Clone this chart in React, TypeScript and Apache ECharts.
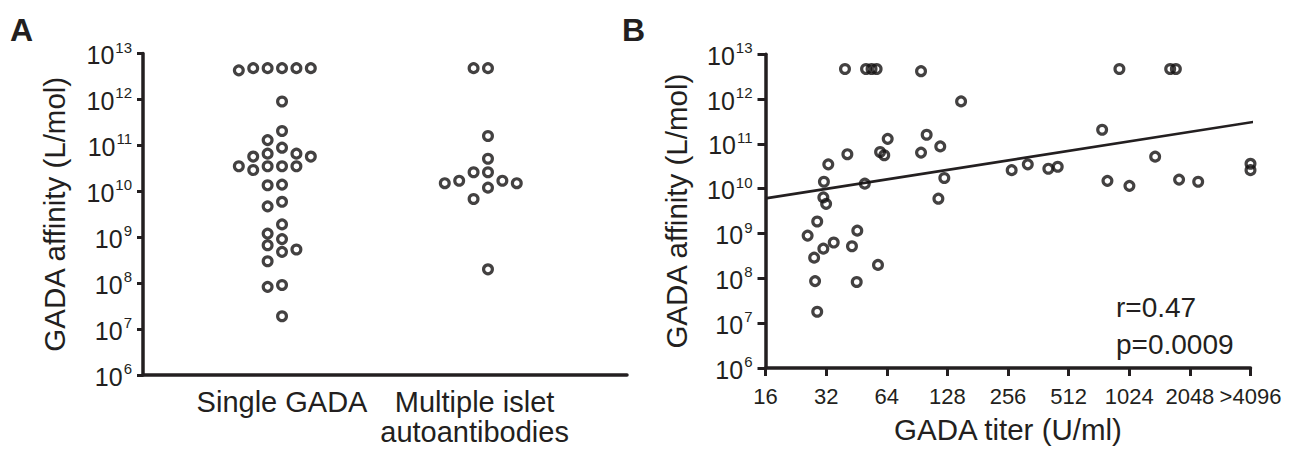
import React, { useEffect, useRef } from "react";
import * as echarts from "echarts";

// ---------- Data ----------
const categories = ["Single GADA", "Multiple islet\nautoantibodies"];

// Panel A: GADA affinity (L/mol) per group
const singleGada = [
  4.8e12, 4.8e12, 4.8e12, 4.3e12, 4.8e12, 4.8e12, 9e11, 2.05e11, 1.3e11, 8.9e10,
  6.6e10, 6.6e10, 5.7e10, 5.7e10, 3.5e10, 3.5e10, 2.9e10, 3.5e10, 3.5e10, 1.35e10,
  1.4e10, 5.9e9, 4.7e9, 1.9e9, 1.2e9, 9.1e8, 6.7e8, 5.4e8, 4.8e8, 3.0e8, 9.1e7,
  8.3e7, 1.9e7,
];
const multipleIslet = [
  4.8e12, 4.8e12, 1.6e11, 5.1e10, 2.6e10, 2.6e10, 1.7e10, 1.5e10, 1.5e10, 1.7e10,
  1.2e10, 6.8e9, 2.0e8,
];

// Panel B: GADA titer (U/ml) vs affinity (L/mol)
const titers = [
  39.7, 50.5, 53.8, 57, 94.7, 149.7, 101, 64.7, 118, 59.3, 62.2, 94.7, 40.8, 32.8,
  123.6, 31.2, 49.8, 115.5, 31, 32, 28.9, 45.7, 25.9, 34.9, 31, 43, 27.9, 57.9, 28.2,
  45.4, 28.9, 915, 1635, 1745, 751, 1377, 267, 321, 406, 452, 798, 1026, 1810, 2252,
  4096, 4096,
];
const affinities = [
  4.7e12, 4.7e12, 4.7e12, 4.7e12, 4.2e12, 8.9e11, 1.6e11, 1.3e11, 8.8e10, 6.6e10,
  5.6e10, 6.4e10, 5.9e10, 3.5e10, 1.74e10, 1.43e10, 1.3e10, 6.0e9, 6.4e9, 4.6e9,
  1.86e9, 1.16e9, 9.0e8, 6.3e8, 4.6e8, 5.2e8, 2.9e8, 2.0e8, 8.7e7, 8.3e7, 1.8e7,
  4.7e12, 4.7e12, 4.7e12, 2.07e11, 5.2e10, 2.6e10, 3.5e10, 2.8e10, 3.1e10, 1.5e10,
  1.16e10, 1.6e10, 1.43e10, 3.6e10, 2.6e10,
];

// Regression line end points [titer, affinity]
const fitLine = [
  [16, 6.1e9],
  [4450, 3.2e11],
];

const xTickLabelsB = ["16", "32", "64", "128", "256", "512", "1024", "2048", ">4096"];
const statsText = ["r=0.47", "p=0.0009"];

// ---------- Styles ----------
const INK = "#231f20";
const MARK = "#141112";
const FONT = "'Liberation Sans', Arial, Helvetica, sans-serif";

function swarm(chart: any, values: number[], center: number, step: number, minDist: number) {
  const placed: { x: number; y: number }[] = [];
  const order = values.map((_, i) => i).sort((a, b) => values[b] - values[a]);
  const cx = chart.convertToPixel({ gridIndex: 0 }, [center, values[0]])[0];
  const out: number[][] = [];
  for (const i of order) {
    const py = chart.convertToPixel({ gridIndex: 0 }, [center, values[i]])[1];
    for (let n = 0; n < 60; n++) {
      const k = n === 0 ? 0 : n % 2 === 1 ? -(n + 1) / 2 : n / 2;
      const px = cx + k * step;
      if (placed.every((p) => Math.hypot(p.x - px, p.y - py) >= minDist)) {
        placed.push({ x: px, y: py });
        const dx = chart.convertFromPixel({ gridIndex: 0 }, [px, py])[0];
        out.push([dx, values[i]]);
        break;
      }
    }
  }
  return out;
}

const supLabel = (v: number) => {
  const e = Math.round(Math.log10(v));
  return `{b|10}{s|${e}}`;
};

const richSup = {
  b: { fontSize: 25, color: INK, fontFamily: FONT, lineHeight: 28, verticalAlign: "bottom" },
  s: { fontSize: 15, color: INK, fontFamily: FONT, lineHeight: 28, verticalAlign: "top", padding: [0, 0, 8, 1] },
};

const markerStyle = {
  color: "rgba(0,0,0,0)",
  borderColor: MARK,
  borderWidth: 3.2,
};

export default function App() {
  const ref = useRef<HTMLDivElement>(null);
  useEffect(() => {
    document.body.style.margin = "0";
    const chart = echarts.init(ref.current!, null, { renderer: "svg" });
    const option: any = {
      animation: false,
      backgroundColor: "#ffffff",
      textStyle: { fontFamily: FONT, color: INK },
      grid: [
        { left: 143, top: 53.5, right: 665, bottom: 74, containLabel: false },
        { left: 765.5, top: 54.3, right: 41.5, bottom: 73.3, containLabel: false },
      ],
      xAxis: [
        {
          gridIndex: 0,
          type: "value",
          min: -0.675,
          max: 1.675,
          axisLine: { show: true, onZero: false, lineStyle: { color: INK, width: 3.5 } },
          axisTick: { show: false },
          splitLine: { show: false },
          axisLabel: {
            customValues: [0, 0.935],
            margin: 12,
            fontSize: 29,
            lineHeight: 30,
            color: INK,
            fontFamily: FONT,
            formatter: (v: number) => (v < 0.5 ? categories[0] : categories[1]),
          },
        },
        {
          gridIndex: 1,
          type: "log",
          logBase: 2,
          min: 16,
          max: 4096,
          splitNumber: 8,
          axisLine: { show: true, onZero: false, lineStyle: { color: INK, width: 3.5 } },
          axisTick: { show: true, length: 8, lineStyle: { color: INK, width: 3 } },
          splitLine: { show: false },
          axisLabel: {
            margin: 17,
            fontSize: 22,
            color: INK,
            fontFamily: FONT,
            formatter: (v: number) => xTickLabelsB[Math.round(Math.log2(v)) - 4] ?? "",
          },
          name: "GADA titer (U/ml)",
          nameLocation: "middle",
          nameGap: 46,
          nameTextStyle: { fontSize: 29.5, color: INK, fontFamily: FONT },
        },
      ],
      yAxis: [
        {
          gridIndex: 0,
          type: "log",
          logBase: 10,
          min: 1e6,
          max: 1e13,
          splitNumber: 7,
          axisLine: { show: true, onZero: false, lineStyle: { color: INK, width: 3.5 } },
          axisTick: { show: true, length: 6, lineStyle: { color: INK, width: 3 } },
          splitLine: { show: false },
          axisLabel: { margin: 11, formatter: supLabel, rich: richSup },
          name: "GADA affinity (L/mol)",
          nameLocation: "middle",
          nameGap: 74,
          nameTextStyle: { fontSize: 29.5, color: INK, fontFamily: FONT },
        },
        {
          gridIndex: 1,
          type: "log",
          logBase: 10,
          min: 1e6,
          max: 1e13,
          splitNumber: 7,
          axisLine: { show: true, onZero: false, lineStyle: { color: INK, width: 3.5 } },
          axisTick: { show: true, length: 8, lineStyle: { color: INK, width: 3 } },
          splitLine: { show: false },
          axisLabel: { margin: 13, formatter: supLabel, rich: richSup },
          name: "GADA affinity (L/mol)",
          nameLocation: "middle",
          nameGap: 74,
          nameTextStyle: { fontSize: 29.5, color: INK, fontFamily: FONT },
        },
      ],
      graphic: [
        { type: "text", left: 10, top: 14, style: { text: "A", font: `bold 32px ${FONT}`, fill: INK } },
        { type: "text", left: 622, top: 14, style: { text: "B", font: `bold 32px ${FONT}`, fill: INK } },
        {
          type: "text",
          left: 1116,
          top: 289,
          style: { text: statsText.join("\n"), font: `28px ${FONT}`, fill: INK, lineHeight: 37 },
        },
      ],
      series: [],
    };
    chart.setOption(option);

    const swA = swarm(chart, singleGada, 0, 14.4, 11.5);
    const swB = swarm(chart, multipleIslet, 1, 14.4, 11.5);

    chart.setOption({
      series: [
        {
          type: "scatter",
          xAxisIndex: 0,
          yAxisIndex: 0,
          symbol: "circle",
          symbolSize: 8.8,
          itemStyle: markerStyle,
          data: swA,
        },
        {
          type: "scatter",
          xAxisIndex: 0,
          yAxisIndex: 0,
          symbol: "circle",
          symbolSize: 8.8,
          itemStyle: markerStyle,
          data: swB,
        },
        {
          type: "scatter",
          xAxisIndex: 1,
          yAxisIndex: 1,
          symbol: "circle",
          symbolSize: 8.8,
          itemStyle: markerStyle,
          data: titers.map((t, i) => [t, affinities[i]]),
        },
        {
          type: "line",
          xAxisIndex: 1,
          yAxisIndex: 1,
          clip: false,
          symbol: "none",
          lineStyle: { color: INK, width: 2.6 },
          data: fitLine,
          z: 1,
        },
      ],
    });
    return () => chart.dispose();
  }, []);
  return <div ref={ref} style={{ width: 1292, height: 449 }} />;
}
